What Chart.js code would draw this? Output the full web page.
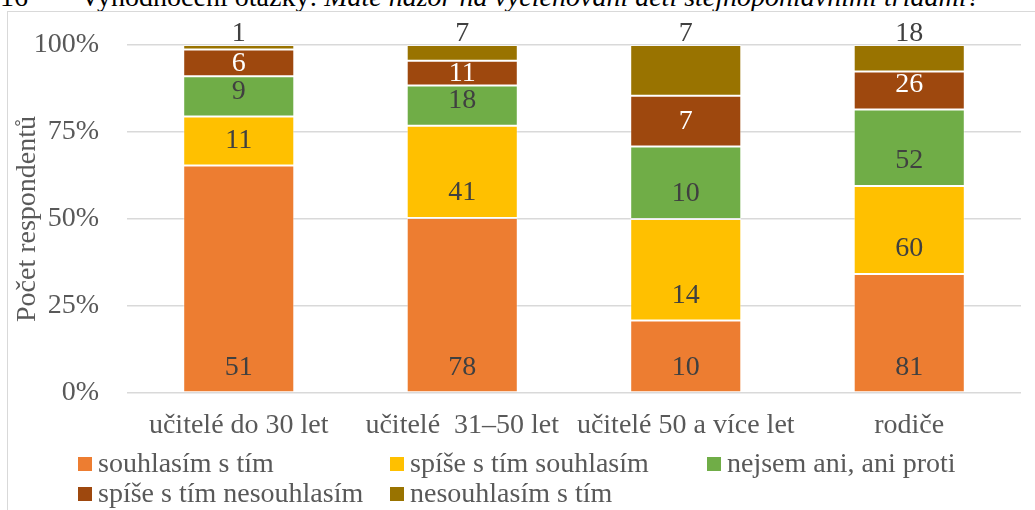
<!DOCTYPE html>
<html>
<head>
<meta charset="utf-8">
<script src="https://cdn.jsdelivr.net/npm/chart.js@4"></script>
<style>
  html, body { margin: 0; padding: 0; background: #fff; overflow: hidden; }
  body { width: 1035px; height: 510px; position: relative; font-family: "Liberation Serif", serif; }
  #frame { position: absolute; left: 7px; top: 11px; width: 2000px; height: 2000px;
           border-left: 1.5px solid #D9D9D9; border-top: 1.5px solid #D9D9D9; }
  .cap { position: absolute; top: -17px; white-space: nowrap; font-size: 28px; line-height: 28px; color: #000; }
  .cap i { font-style: italic; }
  #wrap { position: absolute; left: 0; top: 0; width: 1035px; height: 510px; }
</style>
</head>
<body>
<div class="cap" style="left:0">16</div>
<div class="cap" style="left:80px">Vyhodnocení otázky: <i>Máte názor na vyčleňování dětí stejnopohlavními třídami?</i></div>
<div id="frame"></div>
<div id="wrap"><canvas id="c" width="1035" height="510"></canvas></div>
<script>
const categories = ['učitelé do 30 let', 'učitelé  31–50 let', 'učitelé 50 a více let', 'rodiče'];
const seriesNames = ['souhlasím s tím', 'spíše s tím souhlasím', 'nejsem ani, ani proti', 'spíše s tím nesouhlasím', 'nesouhlasím s tím'];
const souhlasim = [51, 78, 10, 81];
const spiseSouhlasim = [11, 41, 14, 60];
const nejsem = [9, 18, 10, 52];
const spiseNesouhlasim = [6, 11, 7, 26];
const nesouhlasim = [1, 7, 7, 18];
const yTicks = [0, 25, 50, 75, 100];

const seriesCounts = [souhlasim, spiseSouhlasim, nejsem, spiseNesouhlasim, nesouhlasim];
const colors = ['#ED7D31', '#FFC000', '#70AD47', '#9E480E', '#997300'];
const labelColors = ['#404040', '#404040', '#404040', '#FFFFFF', '#404040'];
const totals = categories.map((_, j) => seriesCounts.reduce((s, arr) => s + arr[j], 0));

const FONT = '"Liberation Serif", "Times New Roman", serif';
const FS = 28;
const GRAY = '#595959';

const datasets = seriesCounts.map((arr, i) => ({
  label: seriesNames[i],
  counts: arr,
  data: arr.map((v, j) => v / totals[j] * 100),
  backgroundColor: colors[i],
  borderColor: 'rgba(255,255,255,0.45)',
  borderWidth: 1,
  borderSkipped: false,
  categoryPercentage: 1,
  barPercentage: 0.497
}));

const labelPlugin = {
  id: 'valueLabels',
  afterDatasetsDraw(chart) {
    const ctx = chart.ctx;
    ctx.save();
    ctx.font = FS + 'px ' + FONT;
    ctx.textAlign = 'center';
    ctx.textBaseline = 'middle';
    const last = chart.data.datasets.length - 1;
    chart.data.datasets.forEach((ds, i) => {
      const meta = chart.getDatasetMeta(i);
      meta.data.forEach((el, j) => {
        const top = Math.min(el.y, el.base);
        const base = Math.max(el.y, el.base);
        let y;
        if (i === last) {
          y = chart.chartArea.top - 12;
        } else {
          y = base - 26;
          if (y - 12 < top) y = (top + base) / 2;
        }
        ctx.fillStyle = labelColors[i];
        ctx.fillText(String(ds.counts[j]), el.x, y + 1);
      });
    });
    ctx.restore();
  }
};

const legendPlugin = {
  id: 'gridLegend',
  afterDraw(chart) {
    const ctx = chart.ctx;
    const cols = [78, 390, 707];
    const rows = [464, 494];
    ctx.save();
    ctx.font = FS + 'px ' + FONT;
    ctx.textAlign = 'left';
    ctx.textBaseline = 'middle';
    chart.data.datasets.forEach((ds, i) => {
      const x = cols[i % 3];
      const y = rows[Math.floor(i / 3)];
      ctx.fillStyle = ds.backgroundColor;
      ctx.fillRect(x, y - 7, 14, 14);
      ctx.fillStyle = GRAY;
      ctx.fillText(ds.label, x + 20, y + 1);
    });
    ctx.restore();
  }
};

new Chart(document.getElementById('c'), {
  type: 'bar',
  data: { labels: categories, datasets },
  options: {
    responsive: false,
    animation: false,
    events: [],
    layout: { padding: { top: 45, right: 14, left: 0, bottom: 0 } },
    plugins: { legend: { display: false }, tooltip: { enabled: false }, title: { display: false } },
    scales: {
      x: {
        stacked: true,
        grid: { display: false, drawTicks: false },
        border: { display: false },
        ticks: { color: GRAY, font: { family: FONT, size: FS }, padding: 16, maxRotation: 0, autoSkip: false },
        afterFit(s) { s.height = 117; }
      },
      y: {
        stacked: true,
        min: 0, max: 100,
        afterBuildTicks(s) { s.ticks = yTicks.map(v => ({ value: v })); },
        grid: { color: '#D9D9D9', lineWidth: 1.5, drawTicks: false },
        border: { display: false },
        ticks: { color: GRAY, font: { family: FONT, size: FS }, padding: 28, callback: v => v + '%' },
        title: { display: true, text: 'Počet respondentů', color: GRAY, font: { family: FONT, size: FS }, padding: { top: 11, bottom: 0 } },
        afterFit(s) { s.width = 127; }
      }
    }
  },
  plugins: [labelPlugin, legendPlugin]
});
</script>
</body>
</html>
